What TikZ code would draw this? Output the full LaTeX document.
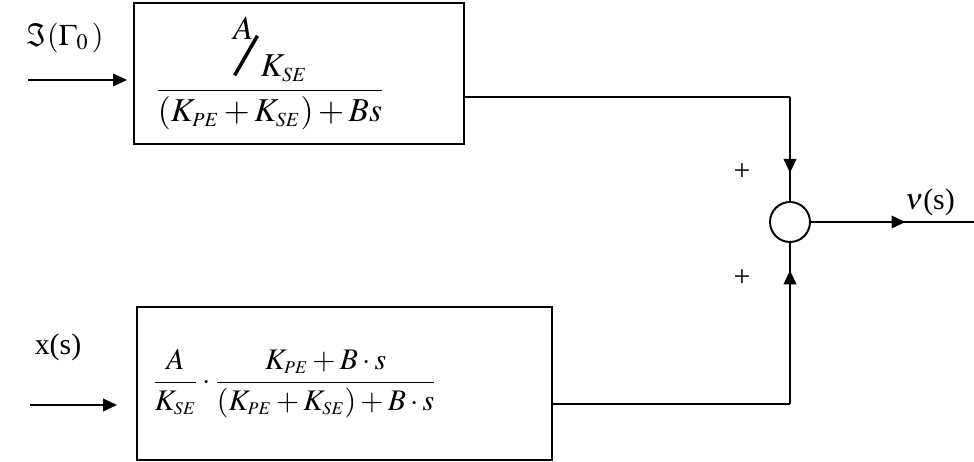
\documentclass[tikz,border=0pt]{standalone}
\usepackage{amsmath}
\usepackage{mathptmx}
\usepackage{fontspec}
\setmainfont{Liberation Serif}
\usepackage{graphicx}
\usetikzlibrary{arrows.meta, decorations.markings}

\newcommand{\kpe}{K_{\scriptscriptstyle PE}}
\newcommand{\kse}{K_{\scriptscriptstyle SE}}
\newcommand{\slashAK}{\mbox{\rlap{\raisebox{21pt}{$A$}}\rotatebox{60}{\rule{26pt}{2pt}}\hspace{1pt}$\kse$}}

\begin{document}
\begin{tikzpicture}[
    x=0.02cm, y=-0.02cm,
    >={Triangle[length=0.28cm, width=0.25cm]},
    font=\fontsize{17}{20}\selectfont,
    block/.style={rectangle, draw, line width=1.1pt, inner sep=0pt},
    sumnode/.style={circle, draw, line width=1.1pt, minimum size=0.8cm, inner sep=0pt},
    lbl/.style={inner sep=0pt, font=\fontsize{17}{20}\selectfont},
    wire/.style={line width=1.1pt},
    sig/.style={->, line width=1.1pt},
    midarrow/.style={wire, postaction={decorate}, decoration={markings, mark=at position #1 with {\arrow{>}}}}
]
\useasboundingbox (0,0) rectangle (974,462);
% blocks and summing point
\node[block, minimum width=6.6cm, minimum height=2.82cm, font=\fontsize{19}{22}\selectfont] (topblk) at (299,73.5)
    {\hspace*{-1.16cm}\raisebox{0.18cm}{$\dfrac{\slashAK}{(\kpe+\kse)+Bs}$}};
\node[block, minimum width=8.3cm, minimum height=3.06cm] (botblk) at (344.5,383.5)
    {\hspace*{-2cm}\raisebox{-0.36cm}{$\dfrac{A}{\kse}\cdot\dfrac{\kpe+B\cdot s}{(\kpe+\kse)+B\cdot s}$}};
\node[sumnode] (sum) at (790,222) {};
% labels
\node[lbl] (lblIm) at (65,38) {$\Im(\Gamma_0\,)$};
\node[lbl] (lblx) at (58,347) {x(s)};
\node[lbl] (lblnu) at (930,202) {$\nu$(s)};
\node[lbl] (plusTop) at (742,172) {+};
\node[lbl] (plusBot) at (742,278) {+};
% coordinates
\coordinate (inTop) at (28,80);
\coordinate (inBot) at (30,405);
\coordinate (topout) at (464,97);
\coordinate (botout) at (552,404);
\coordinate (outend) at (974,222);
% connectors
\draw[sig, shorten >=0.12cm] (inTop) -- (inTop -| topblk.west);
\draw[sig, shorten >=0.38cm] (inBot) -- (inBot -| botblk.west);
\draw[wire] (topout) -- (topout -| sum) coordinate (topcorner);
\draw[midarrow=0.73] (topcorner) -- (sum.north);
\draw[wire] (botout) -- (botout -| sum) coordinate (botcorner);
\draw[midarrow=0.83] (botcorner) -- (sum.south);
\draw[midarrow=0.58] (sum.east) -- (outend);
\end{tikzpicture}
\end{document}
